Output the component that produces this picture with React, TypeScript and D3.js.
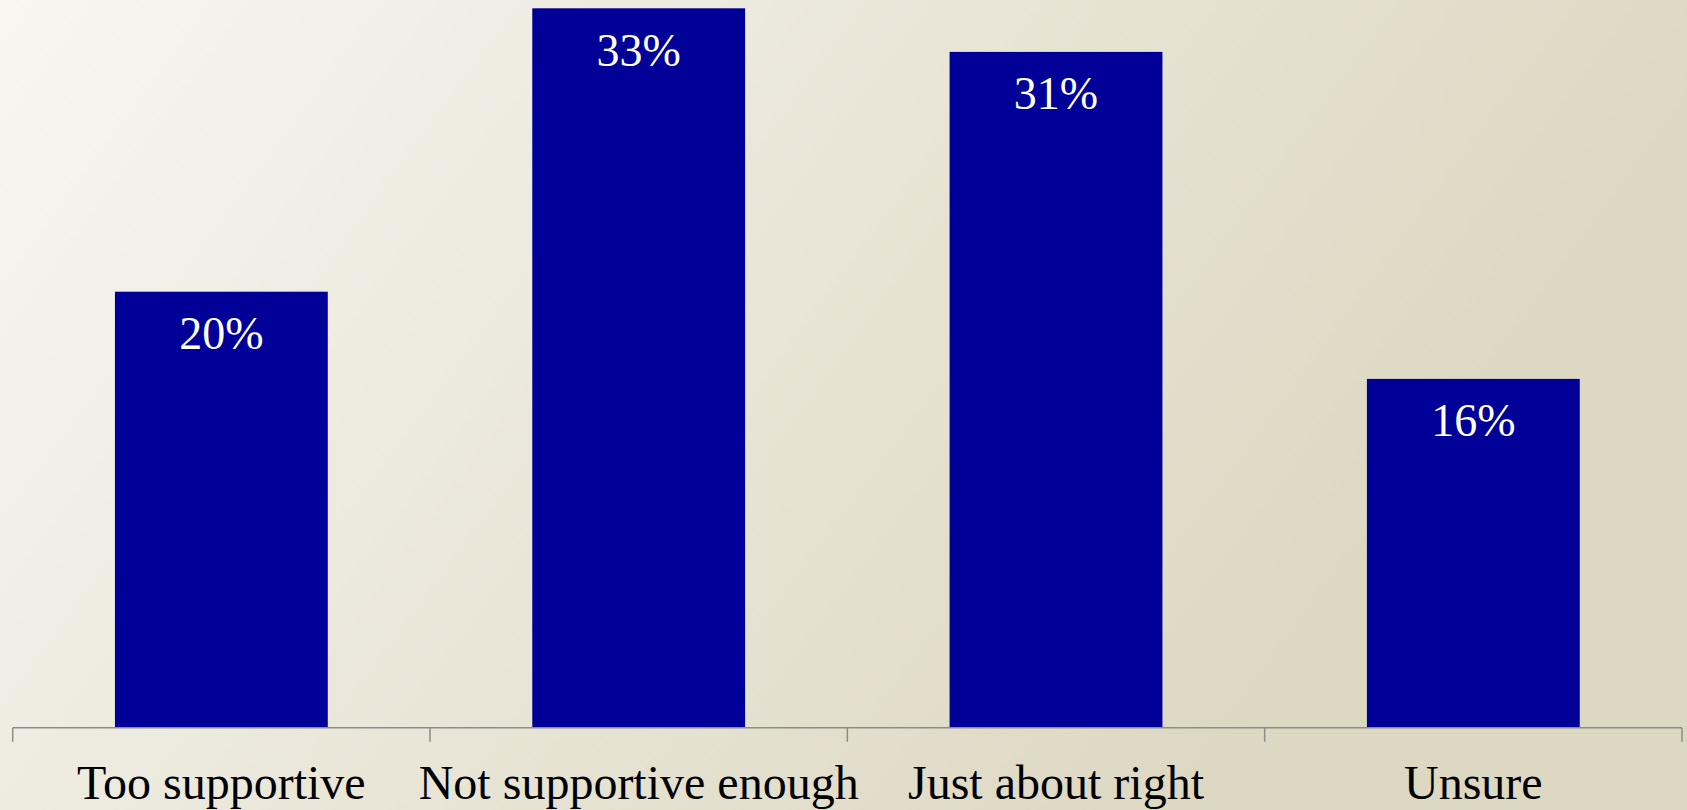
import React from "react";
import * as d3 from "d3";

const categories = ["Too supportive", "Not supportive enough", "Just about right", "Unsure"];
const values = [20, 33, 31, 16];
const valueLabels = ["20%", "33%", "31%", "16%"];

const W = 1687;
const H = 810;
const axisY = 727.7;
const topY = 8.3;
const left = 12.7;
const right = 1682;

export default function App() {
  const x = d3.scaleBand<string>().domain(categories).range([left, right]).padding(0);
  const y = d3.scaleLinear().domain([0, 33]).range([axisY, topY]);
  const bw = x.bandwidth() * 0.51;
  const ticks = [left, ...categories.map((c) => (x(c) as number) + x.bandwidth())];
  const font = "'Liberation Serif', 'Times New Roman', serif";

  return (
    <svg
      width={W}
      height={H}
      style={{ position: "fixed", left: 0, top: 0, display: "block" }}
    >
      <defs>
        <linearGradient id="bg" gradientUnits="userSpaceOnUse" x1={0} y1={0} x2={1150} y2={850}>
          <stop offset="0" stopColor="#F7F6F1" />
          <stop offset="1" stopColor="#DDD8C2" />
        </linearGradient>
      </defs>
      <rect x={0} y={0} width={W} height={H} fill="url(#bg)" />
      {categories.map((c, i) => {
        const cx = (x(c) as number) + x.bandwidth() / 2;
        return (
          <g key={c}>
            <rect
              x={cx - bw / 2}
              y={y(values[i])}
              width={bw}
              height={axisY - y(values[i])}
              fill="#000099"
            />
            <text
              x={cx}
              y={y(values[i]) + 57.5}
              textAnchor="middle"
              fill="#ffffff"
              fontFamily={font}
              fontSize={46}
            >
              {valueLabels[i]}
            </text>
            <text
              x={cx}
              y={799}
              textAnchor="middle"
              fill="#000000"
              fontFamily={font}
              fontSize={48}
            >
              {c}
            </text>
          </g>
        );
      })}
      <line x1={left} x2={right} y1={axisY} y2={axisY} stroke="#8c8c8c" strokeWidth={1.5} />
      {ticks.map((t, i) => (
        <line key={i} x1={t} x2={t} y1={axisY} y2={axisY + 14} stroke="#8c8c8c" strokeWidth={1.5} />
      ))}
    </svg>
  );
}
